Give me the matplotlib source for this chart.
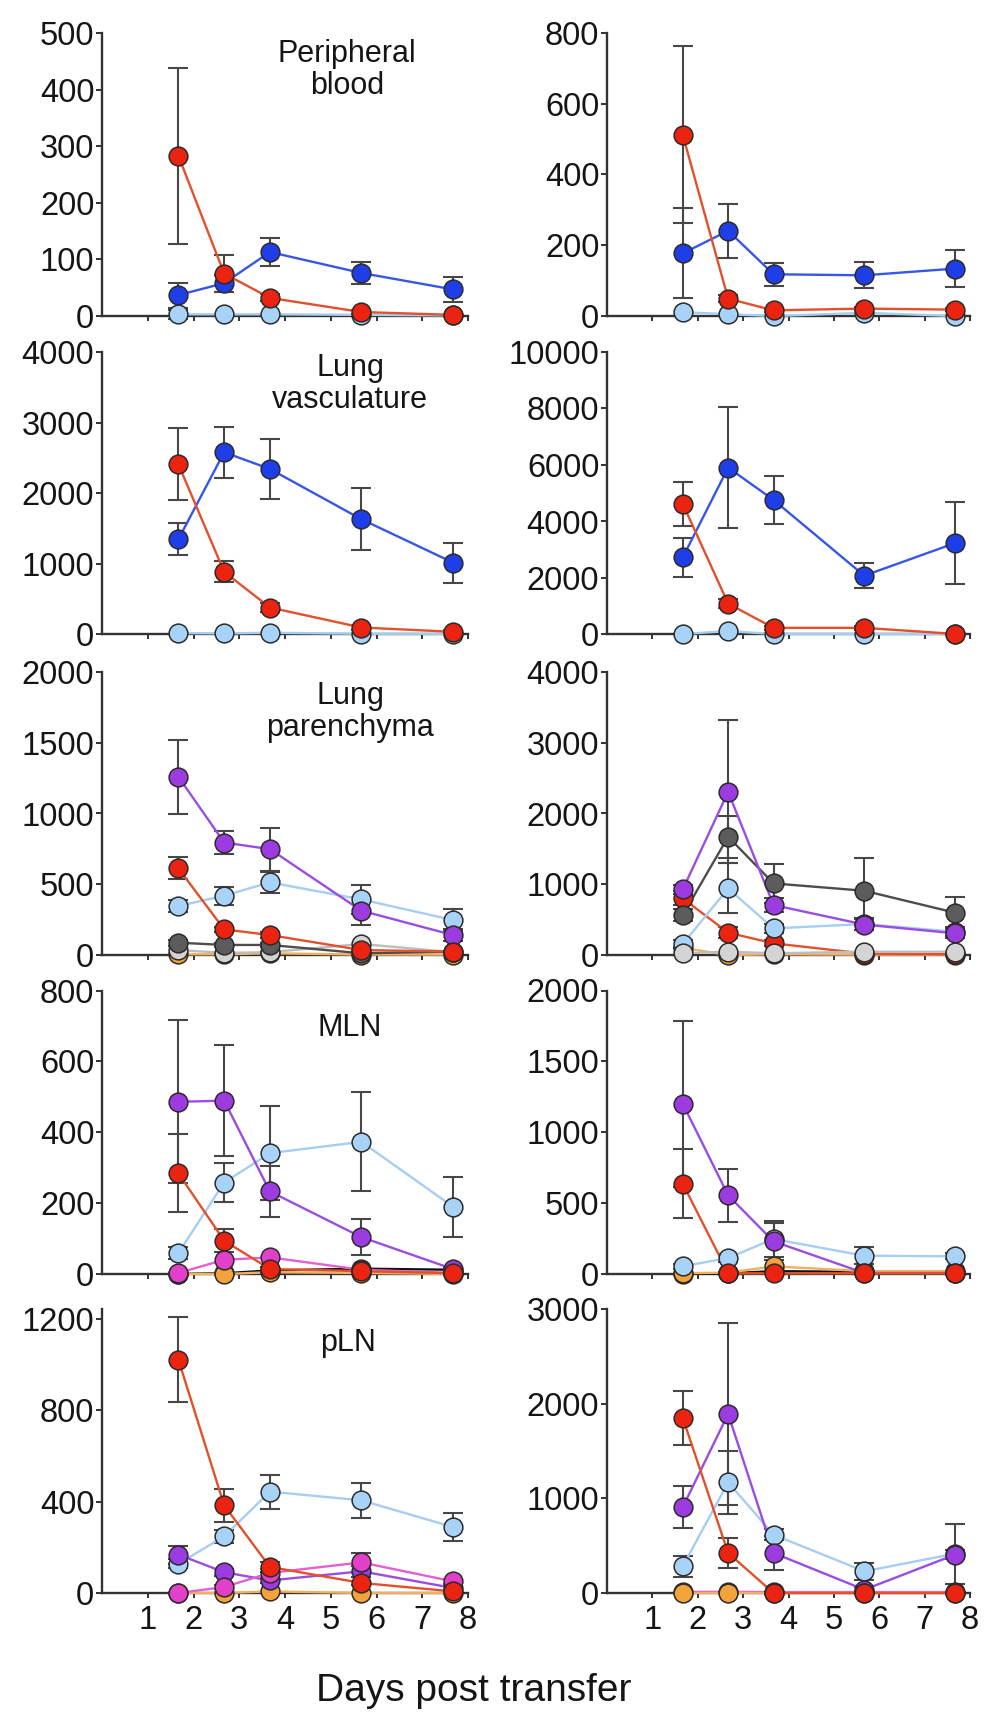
import matplotlib
matplotlib.use("Agg")
import matplotlib.pyplot as plt
import numpy as np

plt.rcParams['font.family'] = ['Liberation Sans', 'DejaVu Sans']

# sampling days (x positions of the time points)
days = [1.67, 2.67, 3.67, 5.67, 7.67]
day_ticks = [1, 2, 3, 4, 5, 6, 7, 8]

# ---- Peripheral blood ----
blood_l_red = [283, 75, 32, 7, 2]
blood_l_red_err = [156, 32, 6, 4, 0]
blood_l_blue = [37, 58, 113, 76, 47]
blood_l_blue_err = [22, 15, 24, 20, 22]
blood_l_ltblue = [3, 3, 3, 2, 1]
blood_l_ltblue_err = [8, 0, 0, 0, 0]

blood_r_red = [512, 49, 16, 21, 18]
blood_r_red_err = [250, 10, 5, 5, 5]
blood_r_blue = [177, 241, 118, 115, 134]
blood_r_blue_err = [127, 76, 33, 37, 52]
blood_r_ltblue = [11, 5, 0, 9, 0]
blood_r_ltblue_err = [0, 0, 0, 0, 0]

# ---- Lung vasculature ----
vasc_l_red = [2410, 887, 382, 99, 38]
vasc_l_red_err = [507, 150, 60, 30, 20]
vasc_l_blue = [1349, 2580, 2344, 1632, 1019]
vasc_l_blue_err = [230, 360, 427, 440, 283]
vasc_l_ltblue = [20, 15, 25, 10, 10]
vasc_l_ltblue_err = [0, 0, 0, 0, 0]

vasc_r_red = [4624, 1094, 235, 235, 20]
vasc_r_red_err = [780, 150, 80, 60, 0]
vasc_r_blue = [2729, 5906, 4765, 2082, 3235]
vasc_r_blue_err = [700, 2150, 860, 440, 1440]
vasc_r_ltblue = [20, 118, 20, 20, 20]
vasc_r_ltblue_err = [0, 0, 0, 0, 0]

# ---- Lung parenchyma ----
par_l_purple = [1259, 795, 748, 313, 141]
par_l_purple_err = [263, 80, 153, 100, 40]
par_l_red = [612, 181, 141, 35, 24]
par_l_red_err = [78, 20, 20, 10, 5]
par_l_ltblue = [346, 419, 513, 393, 247]
par_l_ltblue_err = [40, 64, 77, 100, 75]
par_l_dkgray = [87, 71, 71, 12, 24]
par_l_dkgray_err = [20, 15, 15, 5, 5]
par_l_ltgray = [35, 15, 20, 78, 20]
par_l_orange = [5, 5, 12, 3, 3]

par_r_purple = [927, 2306, 706, 430, 306]
par_r_purple_err = [60, 1012, 100, 80, 60]
par_r_dkgray = [565, 1671, 1012, 908, 598]
par_r_dkgray_err = [80, 295, 273, 457, 216]
par_r_ltblue = [155, 941, 376, 438, 329]
par_r_ltblue_err = [50, 353, 60, 80, 60]
par_r_red = [800, 315, 165, 20, 10]
par_r_red_err = [100, 80, 40, 10, 5]
par_r_ltgray = [24, 47, 24, 47, 47]
par_r_orange = [100, 0, 10, 5, 5]

# ---- MLN ----
mln_l_purple = [486, 489, 233, 104, 14]
mln_l_purple_err = [230, 156, 71, 51, 5]
mln_l_ltblue = [59, 258, 341, 373, 190]
mln_l_ltblue_err = [17, 55, 133, 140, 85]
mln_l_red = [284, 94, 14, 8, 2]
mln_l_red_err = [110, 33, 5, 3, 0]
mln_l_magenta = [3, 40, 47, 12, 3]
mln_l_orange = [0, 0, 5, 3, 0]
mln_l_black = [0, 2, 10, 15, 12]

mln_r_purple = [1201, 555, 230, 7, 7]
mln_r_purple_err = [585, 188, 130, 10, 5]
mln_r_red = [637, 5, 5, 5, 5]
mln_r_red_err = [243, 0, 0, 0, 0]
mln_r_ltblue = [54, 113, 247, 129, 125]
mln_r_ltblue_err = [20, 30, 124, 61, 20]
mln_r_orange = [5, 10, 54, 20, 20]
mln_r_black = [0, 5, 20, 15, 10]

# ---- pLN ----
pln_l_red = [1022, 384, 114, 44, 7]
pln_l_red_err = [186, 71, 20, 10, 5]
pln_l_ltblue = [128, 248, 444, 406, 289]
pln_l_ltblue_err = [20, 30, 75, 78, 63]
pln_l_purple = [168, 91, 55, 95, 22]
pln_l_purple_err = [39, 15, 10, 25, 8]
pln_l_magenta = [0, 26, 88, 134, 51]
pln_l_magenta_err = [0, 10, 15, 41, 10]
pln_l_orange = [0, 0, 7, 0, 0]

pln_r_red = [1849, 423, 0, 0, 0]
pln_r_red_err = [282, 162, 0, 0, 0]
pln_r_purple = [908, 1891, 423, 35, 405]
pln_r_purple_err = [225, 960, 177, 30, 50]
pln_r_ltblue = [282, 1169, 616, 229, 415]
pln_r_ltblue_err = [112, 330, 60, 88, 317]
pln_r_orange = [5, 5, 5, 5, 5]
pln_r_magenta = [12, 12, 10, 10, 10]

panel_titles = ["Peripheral\nblood", "Lung\nvasculature", "Lung\nparenchyma", "MLN", "pLN"]
left_yticks = [[0, 100, 200, 300, 400, 500], [0, 1000, 2000, 3000, 4000],
               [0, 500, 1000, 1500, 2000], [0, 200, 400, 600, 800], [0, 400, 800, 1200]]
right_yticks = [[0, 200, 400, 600, 800], [0, 2000, 4000, 6000, 8000, 10000],
                [0, 1000, 2000, 3000, 4000], [0, 500, 1000, 1500, 2000], [0, 1000, 2000, 3000]]
left_ymax = [500, 4000, 2000, 800, 1244]
right_ymax = [800, 10000, 4000, 2000, 3000]
xlabel_text = "Days post transfer"

# marker fill / line colours per population
STYLE = {
    'ltgray':  ('#d4d4d4', '#bdbdbd'),
    'dkgray':  ('#5c5c5c', '#4d4d4d'),
    'orange':  ('#f2a33a', '#f0b060'),
    'black':   ('#222222', '#111111'),
    'magenta': ('#e23fcb', '#e460d2'),
    'ltblue':  ('#a8d3f8', '#a6cdf2'),
    'purple':  ('#9b3be0', '#9a4de2'),
    'blue':    ('#1e3fe8', '#3656ea'),
    'red':     ('#ea2410', '#e2502c'),
}

panels_left = [
    [('ltblue', blood_l_ltblue, blood_l_ltblue_err), ('blue', blood_l_blue, blood_l_blue_err),
     ('red', blood_l_red, blood_l_red_err)],
    [('ltblue', vasc_l_ltblue, vasc_l_ltblue_err), ('blue', vasc_l_blue, vasc_l_blue_err),
     ('red', vasc_l_red, vasc_l_red_err)],
    [('orange', par_l_orange, None), ('ltgray', par_l_ltgray, None),
     ('dkgray', par_l_dkgray, par_l_dkgray_err), ('ltblue', par_l_ltblue, par_l_ltblue_err),
     ('purple', par_l_purple, par_l_purple_err), ('red', par_l_red, par_l_red_err)],
    [('black', mln_l_black, None), ('orange', mln_l_orange, None), ('magenta', mln_l_magenta, None),
     ('ltblue', mln_l_ltblue, mln_l_ltblue_err), ('purple', mln_l_purple, mln_l_purple_err),
     ('red', mln_l_red, mln_l_red_err)],
    [('orange', pln_l_orange, None), ('ltblue', pln_l_ltblue, pln_l_ltblue_err),
     ('purple', pln_l_purple, pln_l_purple_err), ('magenta', pln_l_magenta, pln_l_magenta_err),
     ('red', pln_l_red, pln_l_red_err)],
]
panels_right = [
    [('ltblue', blood_r_ltblue, blood_r_ltblue_err), ('blue', blood_r_blue, blood_r_blue_err),
     ('red', blood_r_red, blood_r_red_err)],
    [('ltblue', vasc_r_ltblue, vasc_r_ltblue_err), ('blue', vasc_r_blue, vasc_r_blue_err),
     ('red', vasc_r_red, vasc_r_red_err)],
    [('orange', par_r_orange, None), ('red', par_r_red, par_r_red_err),
     ('ltblue', par_r_ltblue, par_r_ltblue_err), ('dkgray', par_r_dkgray, par_r_dkgray_err),
     ('purple', par_r_purple, par_r_purple_err), ('ltgray', par_r_ltgray, None)],
    [('black', mln_r_black, None), ('orange', mln_r_orange, None),
     ('ltblue', mln_r_ltblue, mln_r_ltblue_err), ('purple', mln_r_purple, mln_r_purple_err),
     ('red', mln_r_red, mln_r_red_err)],
    [('magenta', pln_r_magenta, None), ('ltblue', pln_r_ltblue, pln_r_ltblue_err),
     ('purple', pln_r_purple, pln_r_purple_err), ('orange', pln_r_orange, None),
     ('red', pln_r_red, pln_r_red_err)],
]

W, H = 984, 1717
fig = plt.figure(figsize=(W / 100, H / 100), dpi=100)

# pixel geometry of the panel grid (top of y axis, zero line)
rows_px = [(33, 316), (352, 634.5), (672, 955), (990.5, 1274), (1309, 1593)]
cols_px = [(102, 366), (607, 363)]
AX_COLOR = '#333333'
TXT_COLOR = '#151515'


def make_axes(col, row):
    x0, w = cols_px[col]
    top, bot = rows_px[row]
    return fig.add_axes([x0 / W, 1 - bot / H, w / W, (bot - top) / H])


def draw_panel(ax, series, ymax, yticks, bottom_row):
    ax.set_xlim(0, 8)
    ax.set_ylim(0, ymax)
    for s in ('top', 'right'):
        ax.spines[s].set_visible(False)
    for s in ('left', 'bottom'):
        ax.spines[s].set_color(AX_COLOR)
        ax.spines[s].set_linewidth(1.7)
    ax.set_yticks(yticks)
    ax.set_yticklabels([str(t) for t in yticks])
    ax.set_xticks(day_ticks)
    if bottom_row:
        ax.set_xticklabels([str(t) for t in day_ticks])
    else:
        ax.set_xticklabels([])
    ax.tick_params(axis='y', direction='out', length=4, width=1.4, color=AX_COLOR,
                   labelsize=23.5, pad=1.5, labelcolor=TXT_COLOR)
    ax.tick_params(axis='x', direction='out', length=3.5, width=1.4, color=AX_COLOR,
                   labelsize=23.5, pad=5, labelcolor=TXT_COLOR)

    x = np.array(days)
    for i, (key, vals, errs) in enumerate(series):
        fill, line = STYLE[key]
        y = np.array(vals, dtype=float)
        if errs is not None:
            e = np.array(errs, dtype=float)
            m = e > 0
            if m.any():
                ax.errorbar(x[m], y[m], yerr=e[m], fmt='none', ecolor='#474747',
                            elinewidth=1.5, capsize=7, capthick=1.5, zorder=2.6,
                            clip_on=False)
        ax.plot(x, y, '-', color=line, lw=1.7, zorder=3 + i * 0.01, clip_on=False)
        ax.plot(x, y, 'o', ms=13.5, mfc=fill, mec='#2e2a2a', mew=1.1,
                zorder=4 + i * 0.01, clip_on=False)


for r in range(5):
    axl = make_axes(0, r)
    draw_panel(axl, panels_left[r], left_ymax[r], left_yticks[r], r == 4)
    axr = make_axes(1, r)
    draw_panel(axr, panels_right[r], right_ymax[r], right_yticks[r], r == 4)

# tissue labels inside the left column panels
title_pos = [(347, 70), (350, 384), (350, 712), (350, 1028), (348, 1343)]
for (px, py), t in zip(title_pos, panel_titles):
    fig.text(px / W, 1 - py / H, t, ha='center', va='center', fontsize=22,
             color=TXT_COLOR, linespacing=1.12)

fig.text(474 / W, 1 - 1691 / H, xlabel_text, ha='center', va='center',
         fontsize=28, color=TXT_COLOR)

fig.savefig('out.png', dpi=100, facecolor='white')
